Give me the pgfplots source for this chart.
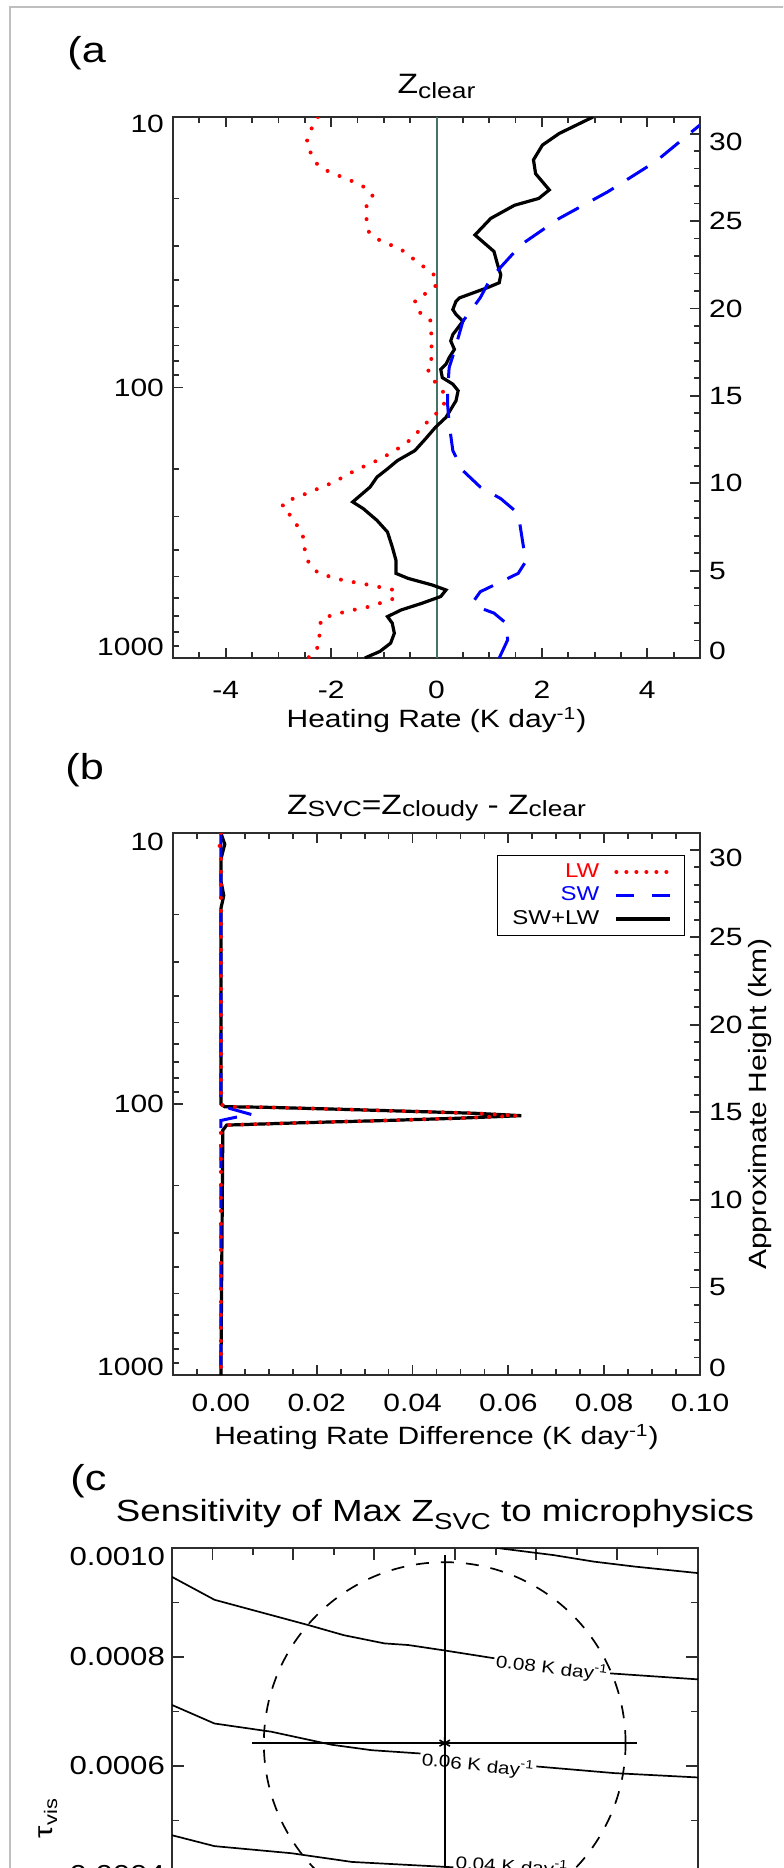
\documentclass[border=0pt]{standalone}
\usepackage{fontspec}
\setmainfont{Liberation Sans}[FakeStretch=1.2]
\usepackage{pgfplots}
\usepackage{pgfplotstable}
\pgfplotsset{compat=1.18}

\newcommand{\fsz}[1]{\fontsize{#1}{#1}\selectfont}
\newcommand{\lo}[2]{\raisebox{-#1}[\height][\depth]{#2}}
\newcommand{\hi}[2]{\raisebox{#1}[\height][\depth]{#2}}

\definecolor{zeroline}{RGB}{70,115,105}
\definecolor{lwred}{RGB}{255,0,0}
\definecolor{swblue}{RGB}{0,0,255}
\definecolor{axisgray}{RGB}{45,45,45}

\pgfplotsset{
  panel/.style={
    scale only axis,
    axis line style={axisgray, line width=1.1pt},
    every tick/.style={axisgray, line width=0.9pt},
    tick align=inside,
    major tick length=5pt, minor tick length=2.8pt,
    tick label style={font=\fsz{12.5pt}},
    label style={font=\fsz{12.5pt}},
  },
  lwstyle/.style={lwred, line width=2pt, line cap=round, dash pattern=on 0pt off 6.5pt},
  swstyle/.style={swblue, line width=1.5pt, dash pattern=on 12pt off 8pt},
  totstyle/.style={black, line width=1.6pt},
}

\pgfplotstableread{
x p
2.97 10.0
2.33 11.5
2.01 12.7
1.84 14.4
1.88 16.2
2.14 18.6
1.94 20.0
1.48 21.2
1.03 23.7
0.73 27.3
1.09 31.4
1.16 35.2
1.22 38.3
1.19 41.0
0.96 42.8
0.44 46.6
0.37 48.0
0.31 51.5
0.37 53.7
0.50 56.9
0.31 63.7
0.27 67.3
0.34 72.3
0.24 77.6
0.18 82.0
0.08 85.7
0.11 91.9
0.31 97.2
0.41 102.8
0.37 111.9
0.18 128.9
-0.02 140.3
-0.21 154.9
-0.41 171.1
-0.74 186.2
-0.93 199.9
-1.13 214.4
-1.26 233.3
-1.59 264.9
-1.39 280.4
-1.13 309.8
-0.93 342.2
-0.84 388.2
-0.77 434.6
-0.77 486.5
-0.54 507.7
-0.08 537.2
0.18 560.3
0.08 592.6
-0.28 627.9
-0.67 664.2
-0.93 703.0
-0.84 743.4
-0.80 809.6
-0.87 880.8
-1.07 944.6
-1.36 1000
}\totA

\pgfplotstableread{
x p
-2.25 10.0
-2.41 11.4
-2.47 12.5
-2.37 13.8
-2.25 15.1
-2.05 15.9
-1.59 17.3
-1.36 18.2
-1.20 19.7
-1.33 21.4
-1.33 23.7
-1.29 26.5
-1.10 28.4
-0.67 30.9
-0.25 35.7
-0.05 38.3
0.01 41.7
-0.22 45.1
-0.41 47.7
-0.35 52.3
-0.12 56.0
-0.10 61.8
-0.10 69.2
-0.07 76.4
-0.18 84.4
-0.08 93.1
0.08 100
0.18 108.9
0.12 118.5
-0.08 128.9
-0.28 140.3
-0.44 152.8
-0.64 164.1
-1.06 183.7
-1.52 201.4
-1.95 223.9
-2.41 243.8
-2.63 254.1
-2.90 264.9
-2.93 280.4
-2.73 301.3
-2.50 366.4
-2.50 404.6
-2.42 446.9
-2.24 486.5
-1.78 515.5
-1.27 537.2
-0.81 560.3
-0.79 601.2
-1.27 645.7
-1.72 673.0
-2.18 712.8
-2.23 787.0
-2.21 880.8
-2.34 972.6
-2.45 1000
}\lwA

\pgfplotstableread{
x p
5.19 10.0
5.00 10.7
4.16 14.6
3.25 18.9
2.33 23.7
1.61 29.6
1.03 39.4
0.83 46.6
0.50 56.9
0.34 73.3
0.24 84.4
0.21 102.8
0.21 115.1
0.24 136.5
0.31 171.1
0.50 202.8
0.83 233.3
1.22 257.6
1.48 284.4
1.58 318.4
1.65 388.2
1.71 434.6
1.55 486.5
1.16 529.7
0.83 568.9
0.70 618.0
0.76 645.7
1.09 682.3
1.32 743.4
1.35 857.0
1.19 1000
}\swA

\pgfplotstableread{
x p
0.0000 10
0.0008 11
0.0000 12.5
0.0000 15
0.0006 17
0.0000 19
0.0000 100
0.0008 102.3
0.0092 102.8
0.0252 104.6
0.0411 106.6
0.0531 108.2
0.0627 110.4
0.0491 112.9
0.0331 115.2
0.0172 117.2
0.0012 119.6
0.0004 125
0.0000 1000
}\totB

\pgfplotstableread{
x p
0.0000 10
-0.0003 11
0.0000 12.5
0.0000 100
0.0008 102.3
0.0092 102.8
0.0252 104.6
0.0411 106.6
0.0531 108.2
0.0620 110.4
0.0491 112.9
0.0331 115.2
0.0172 117.2
0.0012 119.6
0.0000 125
0.0000 1000
}\lwB

\pgfplotstableread{
x p
0.0000 10
0.0000 101
0.0020 104
0.0065 109.5
0.0030 112
0.0000 115
0.0000 1000
}\swB

\begin{document}
\begin{tikzpicture}
\path[use as bounding box] (0,0) rectangle (391.5pt,-934pt);
\begin{scope}
\clip (0,0) rectangle (391.5pt,-934pt);
\draw[black!25, line width=0.75pt] (5pt,-940pt) -- (5pt,-3.5pt) -- (400pt,-3.5pt);

\node[anchor=base west, inner sep=0pt, font=\fsz{18pt}] at (33.5pt,-31.25pt) {(a};
\node[anchor=base west, inner sep=0pt, font=\fsz{18pt}] at (32.5pt,-389.75pt) {(b};
\node[anchor=base west, inner sep=0pt, font=\fsz{18pt}] at (35pt,-745pt) {(c};

% ---------------- panel (a) ----------------
\begin{axis}[panel, at={(86.5pt,-329pt)}, anchor=south west,
  width=263.5pt, height=270.5pt,
  xmin=-5, xmax=5, ymode=log, ymin=10, ymax=1000, y dir=reverse,
  xtick={-4,-2,0,2,4}, xticklabels={-4,-2,0,2,4},
  minor xtick={-4.5,-3.5,-3,-2.5,-1.5,-1,-0.5,0.5,1,1.5,2.5,3,3.5,4.5},
  ytick={10,100,1000}, yticklabels={\lo{3.5pt}{10},100,\hi{5.5pt}{1000}},
  minor ytick={20,30,40,50,60,70,80,90,200,300,400,500,600,700,800,900},
  xtick pos=both, ytick pos=left, xticklabel pos=lower, yticklabel pos=left,
  xticklabel style={anchor=center, yshift=-16pt},
  yticklabel style={anchor=east, xshift=-1pt},
  title={Z\lo{2.5pt}{\fsz{11pt}clear}},
  title style={at={(0.5,1)}, anchor=base, yshift=6pt, font=\fsz{14pt}},
  xlabel={Heating Rate (K day\textsuperscript{-1})},
  xlabel style={at={(axis description cs:0.5,0)}, anchor=center, yshift=-31pt},
]
\addplot[zeroline, line width=1pt] coordinates {(0,10) (0,1000)};
\addplot[totstyle] table[x=x, y=p] {\totA};
\addplot[swstyle] table[x=x, y=p] {\swA};
\addplot[lwstyle] table[x=x, y=p] {\lwA};
\end{axis}
\begin{axis}[panel, at={(86.5pt,-329pt)}, anchor=south west,
  width=263.5pt, height=270.5pt,
  xmin=0, xmax=1, ymin=0, ymax=30.95,
  axis x line=none, axis y line*=right, tick align=inside,
  ytick={0,5,10,15,20,25,30}, yticklabels={\hi{3.5pt}{0},5,10,15,20,25,\lo{4pt}{30}},
  minor y tick num=4,
  yticklabel style={anchor=west, xshift=1pt},
]
\end{axis}

% ---------------- panel (b) ----------------
\begin{axis}[panel, at={(86.5pt,-687.5pt)}, anchor=south west,
  width=263.5pt, height=271pt,
  xmin=-0.01, xmax=0.10, ymode=log, ymin=10, ymax=1000, y dir=reverse,
  xtick={0,0.02,0.04,0.06,0.08,0.10}, xticklabels={0.00,0.02,0.04,0.06,0.08,0.10},
  minor xtick={-0.005,0.005,0.01,0.015,0.025,0.03,0.035,0.045,0.05,0.055,0.065,0.07,0.075,0.085,0.09,0.095},
  ytick={10,100,1000}, yticklabels={\lo{4.5pt}{10},100,\hi{4pt}{1000}},
  minor ytick={20,30,40,50,60,70,80,90,200,300,400,500,600,700,800,900},
  xtick pos=both, ytick pos=left, xticklabel pos=lower, yticklabel pos=left,
  xticklabel style={anchor=center, yshift=-13.75pt},
  yticklabel style={anchor=east, xshift=-1pt},
  scaled x ticks=false,
  title={Z\lo{1pt}{\fsz{11pt}SVC}=Z\lo{1pt}{\fsz{11pt}cloudy} - Z\lo{1pt}{\fsz{11pt}clear}},
  title style={at={(0.5,1)}, anchor=base, yshift=3.5pt, font=\fsz{14pt}},
  xlabel={Heating Rate Difference (K day\textsuperscript{-1})},
  xlabel style={at={(axis description cs:0.5,0)}, anchor=center, yshift=-31pt},
  legend style={at={(0.9715,0.9594)}, anchor=north east, draw=black, line width=0.6pt,
    font=\fsz{10pt}, inner xsep=6pt, inner ysep=2.5pt, nodes={inner sep=1.5pt},
    row sep=0.3pt, cells={anchor=east}},
  legend plot pos=right,
  legend image code/.code={\draw[#1] (0pt,0pt) -- (27pt,0pt);},
]
\addplot[totstyle, forget plot] table[x=x, y=p] {\totB};
\addplot[swstyle, forget plot] table[x=x, y=p] {\swB};
\addplot[lwstyle, forget plot] table[x=x, y=p] {\lwB};
\addlegendimage{lwred, line width=2pt, line cap=round, dash pattern=on 0pt off 5pt}
\addlegendentry{\textcolor{lwred}{LW}\hspace*{6pt}}
\addlegendimage{swblue, line width=1.5pt, dash pattern=on 9pt off 9pt}
\addlegendentry{\textcolor{swblue}{SW}\hspace*{6pt}}
\addlegendimage{black, line width=1.8pt}
\addlegendentry{SW+LW\hspace*{6pt}}
\end{axis}
\begin{axis}[panel, at={(86.5pt,-687.5pt)}, anchor=south west,
  width=263.5pt, height=271pt,
  xmin=0, xmax=1, ymin=0, ymax=30.95,
  axis x line=none, axis y line*=right, tick align=inside,
  ytick={0,5,10,15,20,25,30}, yticklabels={\hi{3.5pt}{0},5,10,15,20,25,\lo{4pt}{30}},
  minor y tick num=4,
  yticklabel style={anchor=west, xshift=1pt},
  ylabel={Approximate Height (km)},
  ylabel style={at={(axis description cs:1.114,0.5)}, anchor=center},
]
\end{axis}

% ---------------- panel (c) ----------------
\begin{axis}[panel, at={(86pt,-1046.5pt)}, anchor=south west,
  width=263pt, height=272.5pt,
  axis line style={axisgray, line width=1pt},
  xmin=0, xmax=13, ymin=0, ymax=10,
  xtick={1,3,...,13}, xticklabels={},
  minor xtick={0,2,...,12},
  ytick={0,2,4,6,8,10},
  yticklabels={0.0000,0.0002,0.0004,0.0006,0.0008,\lo{4.5pt}{0.0010}},
  minor ytick={1,3,5,7,9},
  major tick length=6pt, minor tick length=3.3pt,
  xtick pos=both, ytick pos=both, yticklabel pos=left,
  tick label style={font=\fsz{13pt}},
  yticklabel style={anchor=east, xshift=0pt},
  title={Sensitivity of Max Z\lo{4pt}{\fsz{11.5pt}SVC} to microphysics},
  title style={at={(0.5,1)}, anchor=base, yshift=7.5pt, font=\fsz{15.3pt}},
  ylabel={τ\textsubscript{vis}},
  ylabel style={at={(axis description cs:-0.236,0.5046)}, anchor=center, font=\fsz{13pt}},
]
\addplot[black, line width=0.85pt] coordinates {(7.0,10.3) (8.04,10.0) (9.43,9.87) (10.43,9.75) (11.43,9.66) (13.0,9.54)};
\addplot[black, line width=0.85pt] coordinates {(0,9.47) (1.05,9.05) (2.45,8.77) (3.35,8.59) (4.25,8.40) (5.25,8.25) (5.84,8.22) (6.74,8.12) (7.94,7.98) (9.4,7.84) (10.83,7.70) (13.0,7.59)};
\addplot[black, line width=0.85pt] coordinates {(0,7.12) (1.05,6.78) (2.45,6.63) (3.95,6.39) (4.94,6.29) (6.14,6.23) (7.6,6.12) (9.04,5.99) (10.93,5.87) (13.0,5.79)};
\addplot[black, line width=0.85pt] coordinates {(0,4.73) (1.05,4.53) (2.95,4.40) (4.45,4.24) (6.74,4.15) (8.5,4.08) (10.5,4.02) (13.0,3.97)};
\node[fill=white, inner sep=1pt, rotate=-7, font=\fsz{8.6pt}] at (axis cs:9.39,7.80) {0.08 K day\textsuperscript{-1}};
\node[fill=white, inner sep=1pt, rotate=-6, font=\fsz{8.6pt}] at (axis cs:7.56,6.02) {0.06 K day\textsuperscript{-1}};
\node[fill=white, inner sep=1pt, rotate=-4, font=\fsz{8.6pt}] at (axis cs:8.4,4.16) {0.04 K day\textsuperscript{-1}};
\draw[black, line width=0.85pt, dash pattern=on 6.5pt off 6pt] (axis cs:6.74,6.42) ellipse [x radius=4.47, y radius=3.32];
\addplot[black, line width=0.9pt, mark=asterisk, mark size=3pt,
  mark options={line width=0.8pt},
  error bars/.cd, x dir=both, x explicit, y dir=both, y explicit,
  error bar style={black, line width=0.9pt},
  error mark options={black, mark size=5pt, line width=0.9pt}]
  coordinates {(6.74,6.42) +- (4.51,3.27)};
\end{axis}
\end{scope}
\end{tikzpicture}
\end{document}
